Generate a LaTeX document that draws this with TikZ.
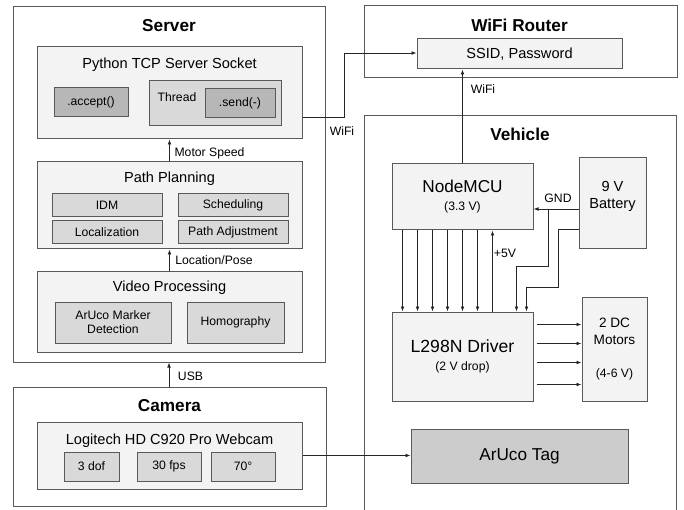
\documentclass[tikz,border=0pt]{standalone}
\usepackage{fontspec}
\setmainfont{Liberation Sans}
\usetikzlibrary{arrows.meta, calc}

\definecolor{lineGray}{HTML}{595959}
\definecolor{paneGray}{HTML}{F3F3F3}
\definecolor{partGray}{HTML}{D9D9D9}
\definecolor{darkGray}{HTML}{B7B7B7}
\definecolor{tagGray}{HTML}{CCCCCC}

\newcommand{\fsml}{\fontsize{12.2}{14}\selectfont}
\newcommand{\fmid}{\fontsize{14.6}{17}\selectfont}
\newcommand{\fbig}{\fontsize{17.2}{20}\selectfont}

\begin{document}
\begin{tikzpicture}[x=1pt, y=-1pt,
	outer/.style={draw=lineGray, line width=1pt, fill=white, inner sep=0pt},
	pane/.style={draw=lineGray, line width=1pt, fill=paneGray, inner sep=0pt},
	part/.style={draw=lineGray, line width=1pt, fill=partGray, inner sep=0pt, font=\fsml, align=center},
	title/.style={font=\fbig\bfseries, inner sep=0pt},
	sml/.style={font=\fsml, inner sep=0pt},
	mid/.style={font=\fmid, inner sep=0pt},
	conn/.style={draw=black!85, line width=0.8pt, -{Latex[length=5pt,width=3.8pt]}},
	wire/.style={draw=black!85, line width=0.8pt}]

	\useasboundingbox (0,0) rectangle (684,510);
	\clip (0,0) rectangle (684,510);

	% server
	\node[outer, minimum width=312pt, minimum height=355pt] (server) at (169,184.5) {};
	\node[title] (servertitle) at (169,26) {Server};

	\node[pane, minimum width=265pt, minimum height=92pt] (tcp) at (169.5,93) {};
	\node[mid] (tcptitle) at (169.5,65) {Python TCP Server Socket};
	\node[part, fill=darkGray, minimum width=74pt, minimum height=29pt] (accept) at (91,102.5) {.accept()};
	\node[part, minimum width=132pt, minimum height=45pt] (thread) at (215,103.5) {};
	\node[sml] (threadtitle) at (177,97) {Thread};
	\node[part, fill=darkGray, minimum width=70pt, minimum height=29pt] (send) at (240,103.5) {.send(-)};

	\node[pane, minimum width=265pt, minimum height=87pt] (plan) at (169.5,205.5) {};
	\node[mid] (plantitle) at (169.5,179) {Path Planning};
	\node[part, minimum width=110pt, minimum height=23pt] (idm) at (107,205.5) {IDM};
	\node[part, minimum width=110pt, minimum height=23pt] (sched) at (233,205.5) {Scheduling};
	\node[part, minimum width=110pt, minimum height=23pt] (loc) at (107,232.5) {Localization};
	\node[part, minimum width=110pt, minimum height=23pt] (adj) at (233,232.5) {Path Adjustment};

	\node[pane, minimum width=265pt, minimum height=81pt] (video) at (169.5,311.5) {};
	\node[mid] (videotitle) at (169.5,288) {Video Processing};
	\node[part, minimum width=116pt, minimum height=41pt] (marker) at (113,322.5) {ArUco Marker\\Detection};
	\node[part, minimum width=97pt, minimum height=41pt] (homog) at (235.5,322.5) {Homography};

	% camera
	\node[outer, minimum width=313pt, minimum height=119pt] (camera) at (169.5,446.5) {};
	\node[title] (cameratitle) at (169.5,406) {Camera};
	\node[pane, minimum width=265pt, minimum height=67pt] (webcam) at (169.5,455.5) {};
	\node[mid] (webcamtitle) at (169.5,441) {Logitech HD C920 Pro Webcam};
	\node[part, minimum width=55pt, minimum height=29pt] (dof) at (91.5,466.5) {3 dof};
	\node[part, minimum width=64pt, minimum height=29pt] (fps) at (169,466.5) {30 fps};
	\node[part, minimum width=64pt, minimum height=29pt] (fov) at (243,466.5) {70°};

	% router
	\node[outer, minimum width=313pt, minimum height=72pt] (router) at (520.5,42) {};
	\node[title] (routertitle) at (519.5,25) {WiFi Router};
	\node[pane, font=\fmid, minimum width=205pt, minimum height=30pt] (ssid) at (519.5,54) {SSID, Password};

	% vehicle
	\node[outer, minimum width=312pt, minimum height=424pt] (vehicle) at (520,328) {};
	\node[title] (vehicletitle) at (520,134) {Vehicle};
	\node[pane, font=\fontsize{17.2}{18}\selectfont, minimum width=141pt, minimum height=66pt, align=center] (nodemcu) at (462.5,197)
		{NodeMCU\\{\fsml (3.3 V)}};
	\node[pane, minimum width=67pt, minimum height=91pt] (battery) at (612.5,203.5) {};
	\node[mid, align=center] (batterytext) at (612.5,196) {9 V\\Battery};
	\node[pane, font=\fontsize{17.6}{18}\selectfont, minimum width=141pt, minimum height=89pt, align=center] (driver) at (462.5,356.5)
		{L298N Driver\\{\fsml (2 V drop)}};
	\node[pane, font=\fontsize{13.6}{17}\selectfont, minimum width=65pt, minimum height=104pt, align=center] (motors) at (614.5,349)
		{2 DC\\Motors\\[16pt]{\fsml (4-6 V)}};
	\node[part, fill=tagGray, font=\fbig, minimum width=217pt, minimum height=54pt] (tag) at (519.5,456) {ArUco Tag};

	% server links
	\draw[conn] (plan.north) -- (plan.north |- tcp.south);
	\node[sml] (speedlab) at (209.5,153) {Motor Speed};
	\draw[conn] (video.north) -- (video.north |- plan.south);
	\node[sml] (poselab) at (214,260) {Location/Pose};
	\draw[conn] (camera.north -| server.south) -- (server.south);
	\node[sml] (usblab) at (190.5,376) {USB};

	% wifi
	\draw[conn] ([yshift=-24pt]tcp.east) -- ++(42,0) |- ([yshift=1pt]ssid.west);
	\node[sml] (wifilab) at (342,131) {WiFi};
	\draw[conn] (nodemcu.north) -- (nodemcu.north |- ssid.south);
	\node[sml] (wifilabb) at (483,89) {WiFi};

	% control lines
	\foreach \i in {0,...,5}
		\draw[conn] ([xshift=11pt+15pt*\i]nodemcu.south west) -- ([xshift=11pt+15pt*\i]driver.north west);
	\draw[conn] ([xshift=101pt]driver.north west) -- ([xshift=101pt]nodemcu.south west);
	\node[sml] (fivevlab) at (505,253) {+5V};

	% power
	\coordinate (gndtap) at (548,209);
	\draw[conn] ([yshift=-5.5pt]battery.west) -- ([yshift=-5.5pt]battery.west -| nodemcu.east);
	\draw[conn] (gndtap) -- ++(0,57) -| ([xshift=125pt]driver.north west);
	\node[sml] (gndlab) at (558,198) {GND};
	\draw[conn] ([yshift=-25.5pt]battery.west) -- ++(-20,0) -- ++(0,58) -| ([xshift=135pt]driver.north west);

	% motors
	\foreach \d in {13,32,51,73}
		\draw[conn] ([shift={(3,\d)}]driver.north east) -- ([shift={(0,\d+15)}]motors.north west);

	% tag
	\draw[conn] (webcam.east) -- (webcam.east -| tag.west);
\end{tikzpicture}
\end{document}
